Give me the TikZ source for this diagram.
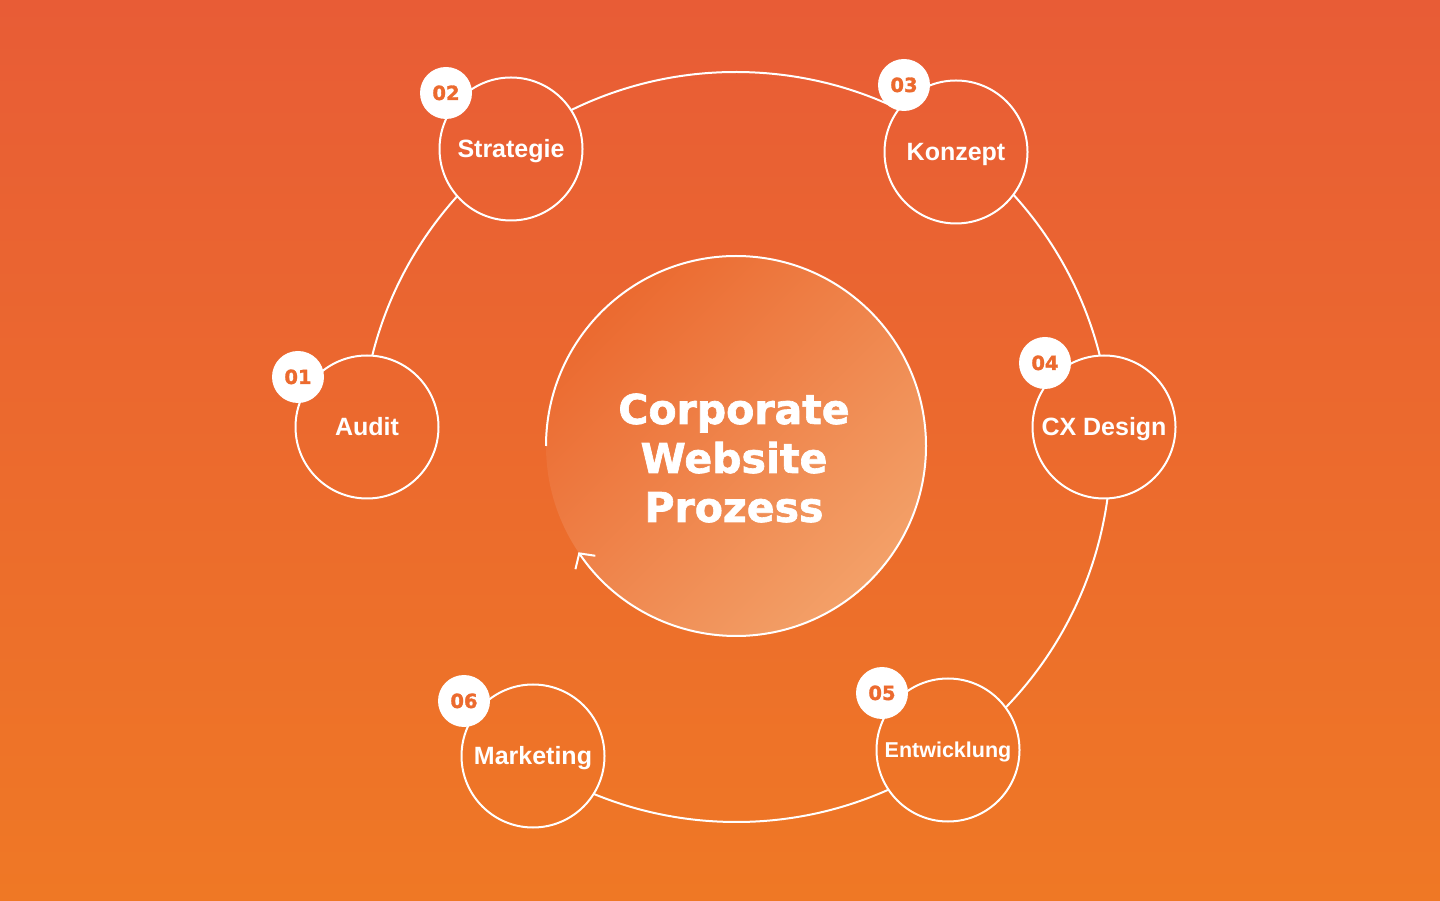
\documentclass[tikz,border=0pt]{standalone}
\usepackage{fontspec}
\setmainfont{Liberation Sans}
\newfontfamily\heavyfont{DejaVu Sans Bold}[FakeBold=1.6]
\usetikzlibrary{arrows.meta}
\definecolor{bgtop}{RGB}{232, 92, 54}
\definecolor{bgbot}{RGB}{239, 120, 37}
\definecolor{hubtop}{RGB}{235, 106, 48}
\definecolor{hubbot}{RGB}{243, 160, 104}
\definecolor{numorange}{RGB}{236, 106, 46}

\begin{document}
\begin{tikzpicture}[
    x=1pt, y=1pt,
    line width=2pt,
    stage/.style={circle, draw=white, minimum size=143, inner sep=0pt, text=white,
        text height=17.9pt, text depth=0pt,
        font=\fontsize{25}{29}\selectfont\bfseries},
    badge/.style={circle, fill=white, minimum size=52, inner sep=0pt, text=numorange,
        text height=14pt, text depth=0pt,
        font=\heavyfont\fontsize{19.5}{22}\selectfont},
    hub/.style={circle, minimum size=380, inner sep=0pt, outer sep=0pt,
        top color=hubtop, bottom color=hubbot, shading angle=45},
    ring/.style={white, line width=2pt}
]

    % ==========================================
    % BACKGROUND
    % ==========================================
    \useasboundingbox (0,0) rectangle (1440,900);
    \shade[top color=bgtop, bottom color=bgbot] (0,0) rectangle (1440,900);


    % ==========================================
    % CENTRE (Hub)
    % ==========================================
    \node[hub] (hub) at (736,454) {};
    \node[text=white, align=center, font=\heavyfont\fontsize{41}{49}\selectfont]
        (title) at (734,442) {Corporate\\Website\\Prozess};

    % open outline with arrow
    \draw[ring, -{Straight Barb[length=11pt, width=24pt]}]
        (hub.180) arc[start angle=180, end angle=-146, radius=190];


    % ==========================================
    % STAGES
    % ==========================================
    \coordinate (ringc) at (736,453);

    \node[stage] (audit)       at (367,473)  {Audit};
    \node[stage] (strategie)   at (511,751)  {Strategie};
    \node[stage] (konzept)     at (956,748)  {Konzept};
    \node[stage] (cxdesign)    at (1104,473) {CX Design};
    \node[stage, font=\fontsize{21.5}{25}\selectfont\bfseries, text height=15.4pt]
        (entwicklung) at (948,150)  {Entwicklung};
    \node[stage] (marketing)   at (533,144)  {Marketing};


    % ==========================================
    % RING (outer circle, cut out at the stages)
    % ==========================================
    \begin{scope}[even odd rule]
        \clip (0,0) rectangle (1440,900)
            (audit.center) circle[radius=72] (strategie.center) circle[radius=72]
            (konzept.center) circle[radius=72] (cxdesign.center) circle[radius=72]
            (entwicklung.center) circle[radius=72] (marketing.center) circle[radius=72];
        \draw[ring] (ringc) ++(176.9:375) arc[start angle=176.9, end angle=-123.3, radius=375];
    \end{scope}


    % ==========================================
    % NUMBER BADGES
    % ==========================================
    \node[badge] (n01) at (298,523) {01};
    \node[badge] (n02) at (446,807) {02};
    \node[badge] (n03) at (904,815) {03};
    \node[badge] (n04) at (1045,537) {04};
    \node[badge] (n05) at (882,207) {05};
    \node[badge] (n06) at (464,199) {06};

\end{tikzpicture}
\end{document}
